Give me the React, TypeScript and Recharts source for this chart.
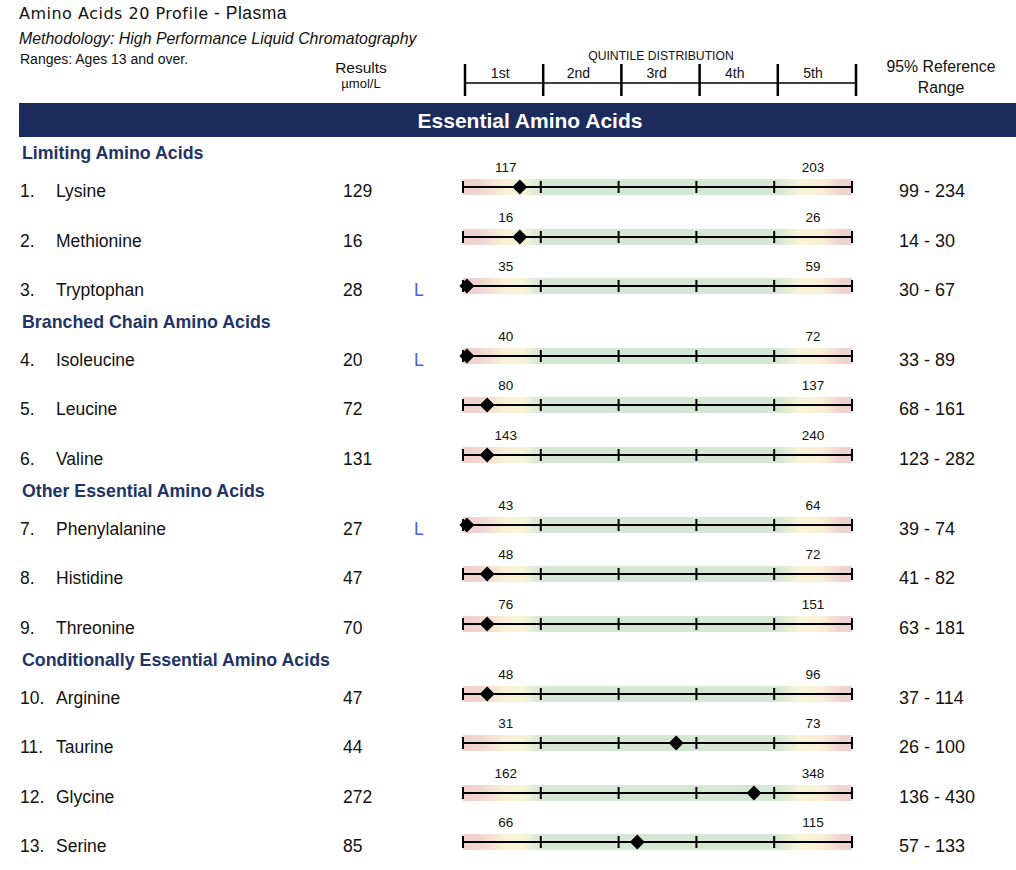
import React from 'react';
import { ComposedChart, XAxis, YAxis, Scatter, ReferenceLine, ReferenceArea } from 'recharts';

// ---------- data ----------
const sectionTitles = [
  'Limiting Amino Acids',
  'Branched Chain Amino Acids',
  'Other Essential Amino Acids',
  'Conditionally Essential Amino Acids',
];
const sectionSizes = [3, 3, 3, 4];
const analytes = [
  'Lysine', 'Methionine', 'Tryptophan',
  'Isoleucine', 'Leucine', 'Valine',
  'Phenylalanine', 'Histidine', 'Threonine',
  'Arginine', 'Taurine', 'Glycine', 'Serine',
];
const results = [129, 16, 28, 20, 72, 131, 27, 47, 70, 47, 44, 272, 85];
const flags = ['', '', 'L', 'L', '', '', 'L', '', '', '', '', '', ''];
const quintileLow = [117, 16, 35, 40, 80, 143, 43, 48, 76, 48, 31, 162, 66];
const quintileHigh = [203, 26, 59, 72, 137, 240, 64, 72, 151, 96, 73, 348, 115];
const refLow = [99, 14, 30, 33, 68, 123, 39, 41, 63, 37, 26, 136, 57];
const refHigh = [234, 30, 67, 89, 161, 282, 74, 82, 181, 114, 100, 430, 133];
// marker position on the 0..5 quintile scale
const markerPosition = [0.73, 0.73, 0.05, 0.05, 0.31, 0.31, 0.05, 0.31, 0.31, 0.31, 2.74, 3.74, 2.24];
const quintileNames = ['1st', '2nd', '3rd', '4th', '5th'];
const quintileBounds = [0, 1, 2, 3, 4, 5];

// ---------- styles ----------
const FONT = '"Liberation Sans", Arial, Helvetica, sans-serif';
const NAVY = '#1b2b5c';
const SECTION = '#213466';
const FLAG = '#3f64d8';

function layoutSections() {
  const out: { title: string; y: number; rows: { index: number; y: number }[] }[] = [];
  let y = 153;
  let idx = 0;
  sectionSizes.forEach((n, s) => {
    const rows: { index: number; y: number }[] = [];
    let ry = y + 34;
    for (let k = 0; k < n; k++) {
      rows.push({ index: idx++, y: Math.round(ry) });
      ry += 49.5;
    }
    out.push({ title: sectionTitles[s], y: Math.round(y), rows });
    y = rows[rows.length - 1].y + 35.5;
  });
  return out;
}

const TickShape = (props: any) => {
  const { cx, cy } = props;
  return <line x1={cx} x2={cx} y1={cy - 6} y2={cy + 6} stroke="#000" strokeWidth={2} />;
};

const DiamondShape = (props: any) => {
  const { cx, cy } = props;
  const r = 7.5;
  return (
    <polygon
      points={`${cx},${cy - r} ${cx + r},${cy} ${cx},${cy + r} ${cx - r},${cy}`}
      fill="#000"
    />
  );
};

const LabelShape = (props: any) => {
  const { cx, cy, payload } = props;
  return (
    <text x={cx} y={cy - 15} textAnchor="middle" fontSize={13.5} fontFamily={FONT} fill="#111">
      {payload.label}
    </text>
  );
};

function QuintileBar({ i }: { i: number }) {
  const gid = `band-${i}`;
  const ticks = quintileBounds.map((x) => ({ x, y: 1 }));
  const labels = [
    { x: 0.55, y: 1, label: quintileLow[i] },
    { x: 4.5, y: 1, label: quintileHigh[i] },
  ];
  const marker = [{ x: markerPosition[i], y: 1 }];
  return (
    <ComposedChart width={430} height={44} margin={{ top: 16, right: 21, bottom: 0, left: 20 }}>
      <defs>
        <linearGradient id={gid} x1="0" y1="0" x2="1" y2="0">
          <stop offset="0" stopColor="#efcfcf" />
          <stop offset="0.04" stopColor="#f0d4d2" />
          <stop offset="0.11" stopColor="#f9f1d6" />
          <stop offset="0.155" stopColor="#f7f4d8" />
          <stop offset="0.2" stopColor="#d4e7d4" />
          <stop offset="0.81" stopColor="#d4e7d4" />
          <stop offset="0.865" stopColor="#f7f4d8" />
          <stop offset="0.92" stopColor="#f9efd6" />
          <stop offset="0.97" stopColor="#f0d4d2" />
          <stop offset="1" stopColor="#efcfcf" />
        </linearGradient>
      </defs>
      <XAxis type="number" dataKey="x" domain={[0, 5]} hide />
      <YAxis type="number" dataKey="y" domain={[0, 2]} hide />
      <ReferenceArea x1={0} x2={5} y1={0.43} y2={1.57} fill={`url(#${gid})`} fillOpacity={1} stroke="none" />
      <ReferenceLine y={1} stroke="#000" strokeWidth={2} />
      <Scatter data={ticks} shape={TickShape} isAnimationActive={false} />
      <Scatter data={labels} shape={LabelShape} isAnimationActive={false} />
      <Scatter data={marker} shape={DiamondShape} isAnimationActive={false} />
    </ComposedChart>
  );
}

const HeaderTick = (props: any) => {
  const { cx } = props;
  return <line x1={cx} x2={cx} y1={4} y2={36} stroke="#000" strokeWidth={2.5} />;
};
const HeaderLabel = (props: any) => {
  const { cx, payload } = props;
  return (
    <text x={cx} y={18} textAnchor="middle" fontSize={14} fontFamily={FONT} fill="#111">
      {payload.label}
    </text>
  );
};

function QuintileHeader() {
  const ticks = quintileBounds.map((x) => ({ x, y: 20 }));
  const labels = quintileNames.map((label, k) => ({ x: k + 0.45, y: 20, label }));
  return (
    <ComposedChart width={430} height={40} margin={{ top: 0, right: 19, bottom: 0, left: 20 }}>
      <XAxis type="number" dataKey="x" domain={[0, 5]} hide />
      <YAxis type="number" dataKey="y" domain={[0, 40]} reversed hide />
      <ReferenceLine y={23} stroke="#000" strokeWidth={1.5} />
      <Scatter data={ticks} shape={HeaderTick} isAnimationActive={false} />
      <Scatter data={labels} shape={HeaderLabel} isAnimationActive={false} />
    </ComposedChart>
  );
}

export default function App() {
  const sections = layoutSections();
  const rowText = { fontFamily: FONT, fontSize: 17.5, fill: '#111' } as const;
  return (
    <div style={{ position: 'absolute', left: 0, top: 0, width: 1016, height: 870, background: '#fff' }}>
      <svg width={1016} height={870} style={{ position: 'absolute', left: 0, top: 0 }}>
        <text x={19} y={18.5} fill="#111">
          <tspan fontFamily='"DejaVu Sans", sans-serif' fontSize={16} letterSpacing={0.5}>Amino Acids 20 Profile</tspan>
          <tspan fontFamily={FONT} fontSize={17.5} letterSpacing={0.5}> - Plasma</tspan>
        </text>
        <text x={19} y={44} fontFamily={FONT} fontSize={15.9} fontStyle="italic" fill="#111">
          Methodology: High Performance Liquid Chromatography
        </text>
        <text x={20} y={64} fontFamily={FONT} fontSize={14} fill="#111">
          Ranges: Ages 13 and over.
        </text>
        <text x={361} y={72.5} textAnchor="middle" fontFamily={FONT} fontSize={15.5} fill="#111">Results</text>
        <text x={361} y={88} textAnchor="middle" fontFamily={FONT} fontSize={13} fill="#111">µmol/L</text>
        <text x={661} y={60} textAnchor="middle" fontFamily={FONT} fontSize={12.2} fill="#111">QUINTILE DISTRIBUTION</text>
        <text x={941} y={72} textAnchor="middle" fontFamily={FONT} fontSize={15.8} fill="#111">95% Reference</text>
        <text x={941} y={93} textAnchor="middle" fontFamily={FONT} fontSize={15.8} fill="#111">Range</text>

        <rect x={19} y={103} width={997} height={34} fill={NAVY} />
        <text x={530} y={128} textAnchor="middle" fontFamily={FONT} fontSize={21} fontWeight="bold" fill="#fff">
          Essential Amino Acids
        </text>

        {sections.map((s) => (
          <g key={s.title}>
            <text x={22} y={s.y + 6.3} fontFamily={FONT} fontSize={17.8} fontWeight="bold" fill={SECTION}>
              {s.title}
            </text>
            {s.rows.map((r) => (
              <g key={r.index}>
                <text x={20} y={r.y + 9.5} {...rowText}>{r.index + 1}.</text>
                <text x={56} y={r.y + 9.5} {...rowText}>{analytes[r.index]}</text>
                <text x={343} y={r.y + 9.5} {...rowText}>{results[r.index]}</text>
                {flags[r.index] ? (
                  <text x={414} y={r.y + 9.5} {...rowText} fill={FLAG}>{flags[r.index]}</text>
                ) : null}
                <text x={899} y={r.y + 9.5} {...rowText} fontSize={18}>{`${refLow[r.index]} - ${refHigh[r.index]}`}</text>
              </g>
            ))}
          </g>
        ))}
      </svg>

      <div style={{ position: 'absolute', left: 445, top: 60 }}>
        <QuintileHeader />
      </div>

      {sections.map((s) =>
        s.rows.map((r) => (
          <div key={`bar-${r.index}`} style={{ position: 'absolute', left: 443, top: r.y - 30 }}>
            <QuintileBar i={r.index} />
          </div>
        ))
      )}
    </div>
  );
}
